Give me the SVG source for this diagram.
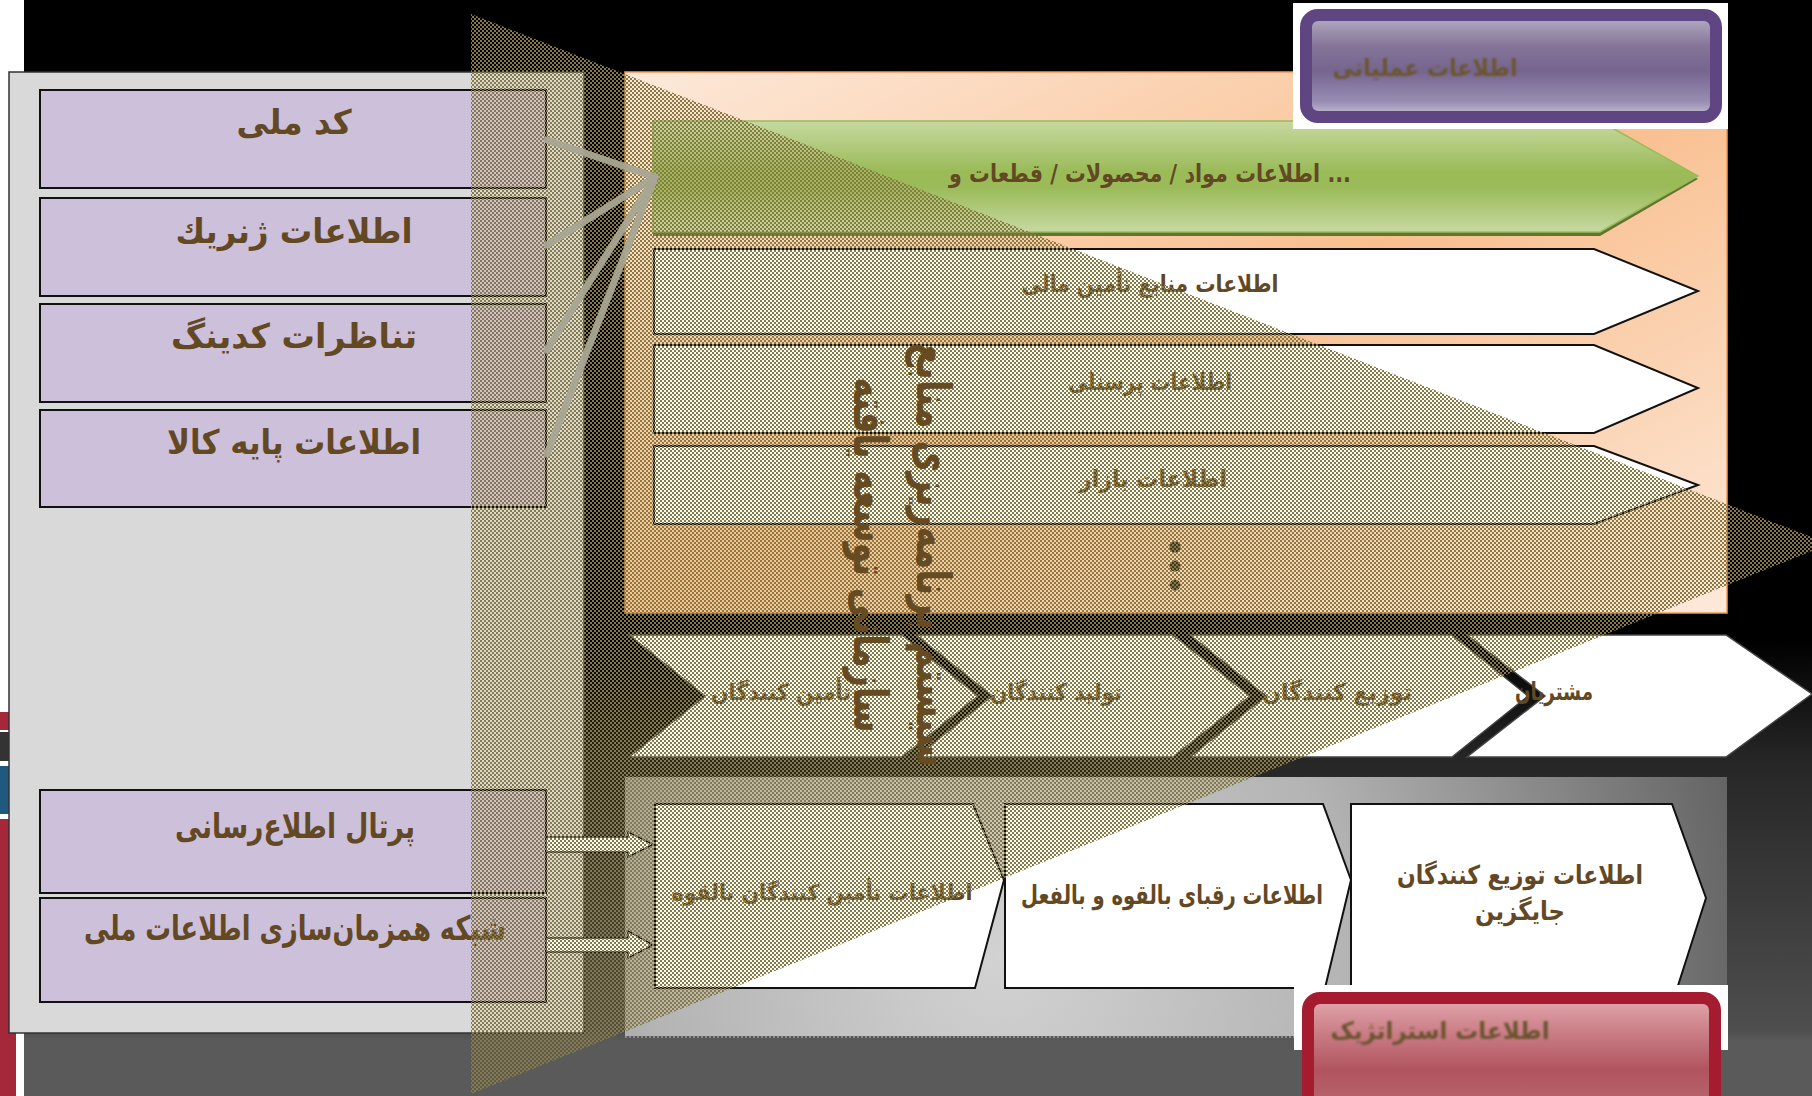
<svg xmlns="http://www.w3.org/2000/svg" width="1812" height="1096" viewBox="0 0 1812 1096">
<defs>
<style>
.t{font-family:'DejaVu Sans','Noto Sans',sans-serif;font-weight:bold;fill:#634824;}
.pbox{fill:#ccc0da;stroke:#111;stroke-width:2;}
.warrow{fill:#ffffff;stroke:#111;stroke-width:2;}
.chev{fill:#ffffff;stroke:#444;stroke-width:1.5;}
.bshape{fill:#ffffff;stroke:#111;stroke-width:2;}
.conn{stroke:#a8a592;stroke-width:7;fill:none;opacity:0.95;stroke-linecap:round;}
.barrow{fill:#ffffff;stroke:#111;stroke-width:1.5;}
</style>
<linearGradient id="bg" x1="0" y1="0" x2="0" y2="1096" gradientUnits="userSpaceOnUse">
<stop offset="0" stop-color="#000"/>
<stop offset="0.584" stop-color="#000"/>
<stop offset="0.693" stop-color="#262626"/>
<stop offset="0.94" stop-color="#4e4e4e"/>
<stop offset="0.95" stop-color="#5a5a5a"/>
<stop offset="1" stop-color="#5a5a5a"/>
</linearGradient>
<linearGradient id="orange" x1="0" y1="0" x2="1" y2="1">
<stop offset="0" stop-color="#fde9da"/>
<stop offset="0.5" stop-color="#f9bf8f"/>
<stop offset="1" stop-color="#fde9da"/>
</linearGradient>
<linearGradient id="green" x1="0" y1="0" x2="0" y2="1">
<stop offset="0" stop-color="#c6d9a0"/>
<stop offset="0.45" stop-color="#9bbb59"/>
<stop offset="0.6" stop-color="#9bbb59"/>
<stop offset="1" stop-color="#c6d9a0"/>
</linearGradient>
<radialGradient id="gpanel" cx="1000" cy="960" r="780" gradientUnits="userSpaceOnUse">
<stop offset="0" stop-color="#d2d2d2"/>
<stop offset="0.45" stop-color="#b4b4b4"/>
<stop offset="1" stop-color="#5e5e5e"/>
</radialGradient>
<linearGradient id="purple" x1="0" y1="0" x2="0" y2="1">
<stop offset="0" stop-color="#b7b1c5"/>
<stop offset="0.3" stop-color="#857599"/>
<stop offset="0.55" stop-color="#75658f"/>
<stop offset="0.85" stop-color="#998db3"/>
<stop offset="1" stop-color="#cac4d7"/>
</linearGradient>
<linearGradient id="red" x1="0" y1="0" x2="0" y2="1">
<stop offset="0" stop-color="#e2a8ae"/>
<stop offset="0.25" stop-color="#cc8088"/>
<stop offset="0.55" stop-color="#b0545f"/>
<stop offset="1" stop-color="#c07078"/>
</linearGradient>
<pattern id="dither" width="4" height="4" patternUnits="userSpaceOnUse">
<rect width="2" height="2" fill="#877a42"/>
<rect x="2" y="2" width="2" height="2" fill="#877a42"/>
</pattern>
<filter id="soft" x="-5%" y="-20%" width="110%" height="140%">
<feGaussianBlur stdDeviation="0.8"/>
</filter>
</defs>

<!-- background -->
<rect width="1812" height="1096" fill="url(#bg)"/>
<rect x="0" y="0" width="24" height="72" fill="#ffffff"/>
<rect x="0" y="72" width="9" height="747" fill="#ffffff"/>
<rect x="0" y="712" width="9" height="18" fill="#a5273a"/>
<rect x="0" y="732" width="9" height="29" fill="#333333"/>
<rect x="0" y="766" width="9" height="48" fill="#1f5a7e"/>
<rect x="0" y="819" width="16" height="277" fill="#a5273a"/>
<rect x="16" y="1033" width="8" height="63" fill="#ffffff"/>

<!-- left gray panel -->
<g id="left-panel">
<rect x="9" y="72" width="575" height="961" fill="#d9d9d9" stroke="#333" stroke-width="1.5"/>
</g>

<g id="box-kod-melli">
<rect class="pbox" x="40" y="90" width="506" height="98"/>
<text class="t" x="294" y="134" font-size="34" text-anchor="middle" textLength="115" lengthAdjust="spacingAndGlyphs">کد ملی</text>
</g>
<g id="box-generic">
<rect class="pbox" x="40" y="198" width="506" height="98"/>
<text class="t" x="294" y="243" font-size="34" text-anchor="middle" textLength="237" lengthAdjust="spacingAndGlyphs">اطلاعات ژنريك</text>
</g>
<g id="box-coding">
<rect class="pbox" x="40" y="304" width="506" height="98"/>
<text class="t" x="294" y="348" font-size="34" text-anchor="middle" textLength="246" lengthAdjust="spacingAndGlyphs">تناظرات کدینگ</text>
</g>
<g id="box-kala">
<rect class="pbox" x="40" y="410" width="506" height="97"/>
<text class="t" x="294" y="454" font-size="34" text-anchor="middle" textLength="254" lengthAdjust="spacingAndGlyphs">اطلاعات پایه کالا</text>
</g>
<g id="box-portal">
<rect class="pbox" x="40" y="790" width="506" height="103"/>
<text class="t" x="295" y="838" font-size="34" text-anchor="middle" textLength="240" lengthAdjust="spacingAndGlyphs">پرتال اطلاع‌رسانی</text>
</g>
<g id="box-network">
<rect class="pbox" x="40" y="898" width="506" height="104"/>
<text class="t" x="295" y="940" font-size="34" text-anchor="middle" textLength="422" lengthAdjust="spacingAndGlyphs">شبکه همزمان‌سازی اطلاعات ملی</text>
</g>

<!-- orange operational panel -->
<g id="operational-panel">
<rect x="625" y="72" width="1102" height="541" fill="url(#orange)" stroke="#f29a5a" stroke-width="1.5"/>
</g>

<g id="row-materials">
<polygon points="653,124 1600,124 1698,179 1600,236 653,236" fill="#5f7530"/>
<polygon points="653,121 1600,121 1698,176 1600,232 653,232" fill="url(#green)" stroke="#9bbb59" stroke-width="1.5"/>
<text class="t" x="1150" y="182" font-size="25" text-anchor="middle" textLength="402" lengthAdjust="spacingAndGlyphs">اطلاعات مواد / محصولات / قطعات و ...</text>
</g>
<g id="row-finance">
<polygon class="warrow" points="654,249 1594,249 1698,291 1594,334 654,334"/>
<text class="t" x="1150" y="292" font-size="24" text-anchor="middle" textLength="257" lengthAdjust="spacingAndGlyphs">اطلاعات منابع تأمین مالی</text>
</g>
<g id="row-personnel">
<polygon class="warrow" points="654,345 1594,345 1698,388 1594,433 654,433"/>
<text class="t" x="1150" y="390" font-size="24" text-anchor="middle" textLength="164" lengthAdjust="spacingAndGlyphs">اطلاعات پرسنلی</text>
</g>
<g id="row-market">
<polygon class="warrow" points="654,446 1594,446 1698,485 1594,524 654,524"/>
<text class="t" x="1153" y="487" font-size="24" text-anchor="middle" textLength="148" lengthAdjust="spacingAndGlyphs">اطلاعات بازار</text>
</g>
<g id="row-more">
<circle cx="1175" cy="547" r="5.5" fill="#3f3525"/>
<circle cx="1175" cy="566" r="5.5" fill="#3f3525"/>
<circle cx="1175" cy="585" r="5.5" fill="#3f3525"/>
</g>

<!-- value chain -->
<g id="chain-suppliers">
<polygon class="chev" points="629,635 902,635 978,696 902,757 629,757 705,696"/>
<text class="t" x="781" y="700" font-size="23" text-anchor="middle" textLength="140" lengthAdjust="spacingAndGlyphs">تأمین کنندگان</text>
</g>
<g id="chain-producers">
<polygon class="chev" points="916,635 1173,635 1250,696 1173,757 916,757 992,696"/>
<text class="t" x="1056" y="700" font-size="23" text-anchor="middle" textLength="132" lengthAdjust="spacingAndGlyphs">تولید کنندگان</text>
</g>
<g id="chain-distributors">
<polygon class="chev" points="1190,635 1452,635 1528,696 1452,757 1190,757 1266,696"/>
<text class="t" x="1337" y="700" font-size="23" text-anchor="middle" textLength="150" lengthAdjust="spacingAndGlyphs">توزیع کنندگان</text>
</g>
<g id="chain-customers">
<polygon class="chev" points="1467,635 1726,635 1812,694 1726,757 1467,757 1545,696"/>
<text class="t" x="1554" y="700" font-size="25" text-anchor="middle" textLength="78" lengthAdjust="spacingAndGlyphs">مشتریان</text>
</g>

<!-- strategic panel -->
<g id="strategic-panel">
<rect x="625" y="777" width="1102" height="259" fill="url(#gpanel)"/>
<line x1="625" y1="1037" x2="1727" y2="1037" stroke="#8c8c8c" stroke-width="2" stroke-dasharray="2 2"/>
</g>
<g id="info-potential-suppliers">
<polygon class="bshape" points="655,804 973,804 1004,880 975,988 655,988"/>
<text class="t" x="822" y="900" font-size="22" text-anchor="middle" textLength="301" lengthAdjust="spacingAndGlyphs">اطلاعات تأمین کنندگان بالقوه</text>
</g>
<g id="info-competitors">
<polygon class="bshape" points="1005,804 1323,804 1351,880 1325,988 1005,988"/>
<text class="t" x="1172" y="904" font-size="26" text-anchor="middle" textLength="302" lengthAdjust="spacingAndGlyphs">اطلاعات رقبای بالقوه و بالفعل</text>
</g>
<g id="info-alt-distributors">
<polygon class="bshape" points="1351,804 1672,804 1706,898 1675,995 1351,995"/>
<text class="t" x="1520" y="884" font-size="26" text-anchor="middle" textLength="246" lengthAdjust="spacingAndGlyphs">اطلاعات توزیع کنندگان</text>
<text class="t" x="1520" y="920" font-size="26" text-anchor="middle" textLength="90" lengthAdjust="spacingAndGlyphs">جایگزین</text>
</g>

<!-- labels -->
<g id="label-operational">
<rect x="1293" y="3" width="435" height="126" fill="#ffffff"/>
<rect x="1306" y="15" width="410" height="102" rx="12" fill="url(#purple)" stroke="#5f4683" stroke-width="12"/>
<text class="t" x="1425" y="76" font-size="24" text-anchor="middle" textLength="185" lengthAdjust="spacingAndGlyphs" filter="url(#soft)" style="fill:#6a5530">اطلاعات عملیاتی</text>
</g>
<g id="label-strategic">
<rect x="1294" y="985" width="434" height="65" fill="#ffffff"/>
<rect x="1308" y="998" width="407" height="130" rx="12" fill="url(#red)" stroke="#a51c30" stroke-width="12"/>
<text class="t" x="1440" y="1039" font-size="24" text-anchor="middle" textLength="219" lengthAdjust="spacingAndGlyphs" filter="url(#soft)" style="fill:#6a5530">اطلاعات استراتژیک</text>
</g>

<!-- block arrows -->
<g id="connectors">
<polygon class="barrow" points="546,837 628,837 628,832 653,844.5 628,857 628,852 546,852"/>
<polygon class="barrow" points="546,938 628,938 628,931 653,945 628,958 628,952 546,952"/>
</g>

<!-- ERP overlay triangle -->
<g id="erp-overlay">
<polygon points="471,14 1829,544 471,1094" fill="url(#dither)"/>
</g>

<!-- gray connectors to materials row -->
<g id="connectors-lines">
<line class="conn" x1="547" y1="140" x2="655" y2="177"/>
<line class="conn" x1="547" y1="245" x2="655" y2="177"/>
<line class="conn" x1="547" y1="350" x2="655" y2="177"/>
<line class="conn" x1="547" y1="454" x2="655" y2="177"/>
</g>

<g id="erp-title">
<text class="t" transform="translate(917,555) rotate(90)" font-size="48" text-anchor="middle" textLength="424" lengthAdjust="spacingAndGlyphs" style="fill:#664a22">سیستم برنامه‌ریزی منابع</text>
<text class="t" transform="translate(854,555) rotate(90)" font-size="48" text-anchor="middle" textLength="355" lengthAdjust="spacingAndGlyphs" style="fill:#664a22">سازمانی توسعه یافته</text>
</g>
</svg>
